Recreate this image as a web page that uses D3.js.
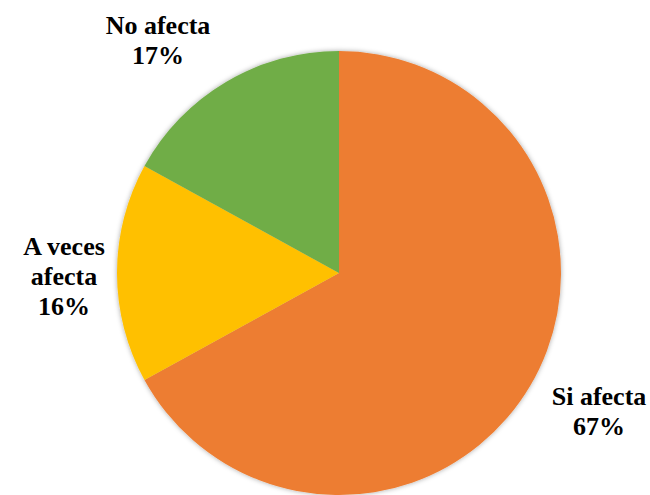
<!DOCTYPE html>
<html><head><meta charset="utf-8">
<script src="https://cdn.jsdelivr.net/npm/d3@7"></script>
<style>body{margin:0;background:#fff;} svg{display:block;}
.lbl{font-family:"Liberation Serif","Times New Roman",Times,"DejaVu Serif",serif;font-weight:bold;font-size:26px;}</style>
</head><body>
<svg id="c" width="650" height="495"></svg>
<script>
const categories = ["Si afecta", "A veces afecta", "No afecta"];
const values = [67, 16, 17];
const colors = ["#ED7D31", "#FFC000", "#70AD47"];
const labelLines = [["Si afecta", "67%"], ["A veces", "afecta", "16%"], ["No afecta", "17%"]];
const labelPos = [[599, 405], [64, 255], [158, 34]];

const svg = d3.select("#c");
const defs = svg.append("defs");
const f = defs.append("filter").attr("id", "sh").attr("x", "-10%").attr("y", "-10%").attr("width", "120%").attr("height", "120%");
f.append("feDropShadow").attr("dx", 0).attr("dy", 0).attr("stdDeviation", 2.5).attr("flood-color", "#000").attr("flood-opacity", 0.35);

const cx = 339, cy = 273, r = 222;
const pie = d3.pie().sort(null).value(d => d)(values);
const arc = d3.arc().innerRadius(0).outerRadius(r);
const g = svg.append("g").attr("transform", `translate(${cx},${cy})`).attr("filter", "url(#sh)");
g.selectAll("path").data(pie).join("path")
  .attr("d", arc).attr("fill", (d, i) => colors[i]);

const lg = svg.append("g");
labelLines.forEach((lines, i) => {
  const t = lg.append("text").attr("class", "lbl").attr("x", labelPos[i][0]).attr("y", labelPos[i][1])
    .attr("text-anchor", "middle").attr("fill", "#000");
  lines.forEach((l, j) => t.append("tspan").attr("x", labelPos[i][0]).attr("dy", j ? 30 : 0).text(l));
});
</script>
</body></html>
